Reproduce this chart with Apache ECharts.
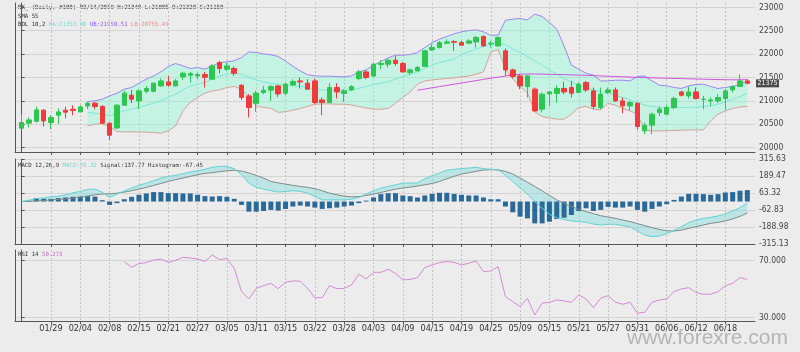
<!DOCTYPE html>
<html><head><meta charset="utf-8">
<script src="https://cdn.jsdelivr.net/npm/echarts@6/dist/echarts.min.js"></script>
<style>html,body{margin:0;padding:0;background:#ececec;}#c{width:800px;height:352px;}</style>
</head><body><div id="c"></div>
<script>
const dates = ['01/23','01/24','01/25','01/28','01/29','01/30','01/31','02/01','02/04','02/05',
'02/06','02/07','02/08','02/12','02/13','02/14','02/15','02/18','02/19','02/20',
'02/21','02/22','02/25','02/26','02/27','02/28','03/01','03/04','03/05','03/06',
'03/07','03/08','03/11','03/12','03/13','03/14','03/15','03/18','03/19','03/20',
'03/22','03/25','03/26','03/27','03/28','03/29','04/01','04/02','04/03','04/04',
'04/05','04/08','04/09','04/10','04/11','04/12','04/15','04/16','04/17','04/18',
'04/19','04/22','04/23','04/24','04/25','04/26','05/07','05/08','05/09','05/10',
'05/13','05/14','05/15','05/16','05/17','05/20','05/21','05/22','05/23','05/24',
'05/27','05/28','05/29','05/30','05/31','06/03','06/04','06/05','06/06','06/07',
'06/10','06/11','06/12','06/13','06/14','06/17','06/18','06/19','06/20','06/21'];

const opens = [20417,20524,20566,20801,20539,20694,20801,20823,20765,20893,
20951,20880,20523,20423,20908,21122,21000,21207,21207,21321,
21406,21321,21513,21549,21534,21564,21464,21820,21677,21692,
21335,21107,20951,21180,21229,21320,21165,21342,21427,21378,
21427,21021,20966,21286,21158,21235,21478,21620,21534,21777,
21784,21870,21799,21607,21641,21735,22090,22141,22233,22269,
22248,22233,22261,22376,22218,22175,22069,21662,21534,21307,
21250,20823,21150,21158,21265,21286,21180,21393,21214,20859,
21180,21235,21000,20893,20951,20360,20481,20752,20716,20859,
21192,21107,21192,21030,21000,21000,21051,21235,21307,21427];
const closes = [20539,20594,20808,20573,20645,20765,20759,20795,20872,20951,
20880,20523,20267,20908,21165,21036,21214,21265,21378,21427,
21335,21427,21592,21585,21564,21506,21748,21692,21748,21592,
21073,20859,21165,21229,21307,21150,21357,21415,21406,21250,
20966,20966,21286,21192,21214,21307,21620,21500,21784,21799,
21870,21799,21620,21662,21713,22069,22141,22248,22261,22255,
22190,22282,22355,22175,22233,22355,21662,21521,21321,21534,
20786,21143,21192,21265,21192,21165,21357,21235,20880,21143,
21235,21000,20893,20966,20453,20481,20716,20823,20859,21051,
21122,21192,21051,21036,21021,21073,21214,21307,21427,21375];
const lows = [20395,20431,20539,20453,20395,20502,20625,20694,20765,20823,
20823,20502,20167,20395,20893,20951,20823,21165,21180,21307,
21307,21307,21449,21393,21464,21286,21464,21592,21640,21534,
21021,20645,20765,21143,21000,21085,21122,21321,21265,21235,
20929,20694,20951,21051,20979,21214,21449,21464,21500,21677,
21714,21748,21607,21549,21641,21735,22069,22120,22212,22069,
22175,22212,22141,22162,22141,22162,21534,21479,21250,21073,
20765,20752,20893,20966,21143,21073,21165,21192,20823,20823,
21143,20979,20737,20786,20380,20288,20288,20679,20716,20823,
21094,21051,21030,20823,20880,20951,20808,21180,21307,21357];
const highs = [20716,20645,20880,20823,20694,20838,20880,20908,20908,20979,
20979,20908,20539,20929,21214,21235,21250,21321,21393,21478,
21534,21464,21620,21620,21606,21620,21784,21855,21820,21735,
21357,21143,21214,21321,21335,21340,21393,21464,21500,21464,
21478,21073,21378,21378,21250,21335,21662,21662,21821,21876,
21906,21962,21833,21692,21748,22090,22212,22282,22319,22297,
22282,22319,22389,22404,22282,22376,22120,21692,21571,21550,
21286,21180,21214,21335,21406,21427,21393,21427,21286,21286,
21286,21286,21073,21000,20966,20539,20752,20880,20908,21094,
21214,21307,21286,21107,21073,21143,21250,21335,21571,21464];

const bolUpper = [null,null,null,null,null,null,null,null,null,
20987,21000,21036,21107,21165,21250,21286,21378,21464,21534,
21620,21735,21799,21748,21692,21714,21677,21748,21821,21833,
21855,21927,22047,22034,22005,21985,21950,21850,21740,21640,
21560,21534,21527,21527,21520,21513,21534,21620,21662,21763,
21842,21919,21977,21977,21992,22034,22141,22248,22319,22376,
22432,22475,22504,22517,22475,22404,22404,22725,22746,22761,
22731,22853,22804,22675,22532,22175,21763,21677,21592,21549,
21427,21427,21442,21442,21427,21521,21534,21427,21335,21321,
21286,21265,21321,21350,21357,21308,21265,21286,21308,21357,
21427];
const bolMid = [null,null,null,null,null,null,null,null,null,
20752,20737,20716,20694,20737,20786,20823,20859,20908,20951,
21000,21073,21143,21235,21321,21357,21393,21464,21534,21571,
21592,21560,21510,21450,21405,21375,21353,21335,21321,21308,
21286,21250,21235,21229,21229,21229,21235,21265,21308,21350,
21378,21406,21464,21521,21571,21620,21692,21763,21821,21855,
21891,21990,22050,22110,22160,22215,22250,22200,22110,22035,
21949,21855,21763,21662,21571,21479,21406,21335,21286,21235,
21192,21165,21122,21073,21021,20966,20908,20880,20859,20850,
20850,20859,20859,20865,20880,20893,20929,20979,21036,21094,
21158];
const bolLower = [null,null,null,null,null,null,null,null,null,
20466,20502,20517,20453,20346,20338,20338,20338,20331,20325,
20310,20359,20466,20786,20966,21073,21165,21214,21235,21286,
21308,21250,21073,20893,20859,20844,20755,20770,20801,20838,
20880,20929,20936,20936,20929,20929,20915,20880,20850,20823,
20823,20838,20951,21073,21192,21357,21427,21449,21464,21479,
21492,21513,21534,21571,21620,22040,22100,21675,21474,21309,
21167,20765,20667,20637,20609,20609,20716,20859,20880,20823,
20808,20951,20908,20838,20786,20716,20374,20359,20359,20367,
20367,20374,20380,20380,20380,20573,20716,20786,20838,20872,
20880];
const sma55 = [null,null,null,null,null,null,null,null,null,null,
null,null,null,null,null,null,null,null,null,null,
null,null,null,null,null,null,null,null,null,null,
null,null,null,null,null,null,null,null,null,null,
null,null,null,null,null,null,null,null,null,null,
null,null,null,null,
21229,21254,21280,21306,21331,21357,21383,21408,21434,21459,
21485,21509,21532,21553,21571,21575,21575,21573,21568,21564,
21560,21556,21551,21547,21541,21534,21528,21521,21515,21509,
21502,21498,21494,21489,21485,21481,21477,21472,21468,21464,
21459,21455,21453,21451,21451,21453];

const macdLine = [0,10,22,27,35,40,50,65,75,90,
92,70,30,55,80,100,120,137,154,174,
187,194,207,219,229,239,254,261,261,244,
199,137,105,92,80,70,75,80,75,62,
37,12,12,12,12,17,30,55,80,100,
112,124,137,137,139,169,192,212,232,239,
244,249,254,244,239,237,194,149,100,55,
0,-50,-95,-120,-134,-144,-149,-154,-167,-174,
-169,-169,-179,-187,-219,-249,-261,-256,-239,-214,
-187,-157,-137,-125,-117,-107,-92,-70,-45,-12];
const macdSignal = [0,2,5,7,12,15,20,25,32,40,
50,55,57,62,70,80,92,105,120,134,
149,162,174,187,199,209,214,222,228,232,
226,212,194,174,149,138,129,120,112,105,
95,80,62,50,40,35,37,45,55,67,
80,92,100,107,115,124,134,149,169,187,
204,214,224,234,237,234,224,204,174,144,
112,80,45,12,-12,-37,-57,-75,-90,-105,
-115,-125,-137,-149,-164,-179,-194,-207,-217,-219,
-212,-199,-187,-174,-162,-154,-144,-129,-110,-85];
const macdHist = [0,5,25,20,20,25,30,35,37,42,
37,10,-25,-12,17,35,50,60,70,70,
62,62,60,60,50,40,37,40,35,20,
-25,-75,-75,-70,-62,-67,-55,-37,-30,-37,
-45,-55,-50,-45,-37,-30,-12,7,30,55,
62,62,45,40,30,45,57,65,65,57,
50,45,45,30,17,17,-37,-80,-112,-125,
-162,-162,-150,-130,-120,-100,-70,-50,-70,-62,
-40,-45,-45,-37,-62,-75,-55,-37,-20,12,
37,57,57,55,50,55,67,70,80,85];
const rsi14 = [null,null,null,null,null,null,null,null,null,null,null,null,null,null,
69.2,65.2,67.8,68.5,70.3,71.0,68.7,70.1,72.2,71.7,
71.0,69.4,73.8,70.6,71.5,64.5,48.2,43.1,50.5,52.4,
54.0,50.3,54.8,55.7,55.5,50.5,44.0,44.0,52.4,50.3,
50.5,52.9,60.4,57.1,61.7,61.7,63.8,61.0,
56.4,56.8,58.0,65.0,66.9,68.5,69.2,68.7,66.9,68.0,
69.7,62.2,62.7,65.7,44.7,41.2,37.7,43.6,31.9,40.1,
40.8,42.4,41.7,40.8,45.9,43.1,37.0,43.6,45.4,40.8,
39.4,40.8,33.1,33.8,40.8,42.4,43.1,48.2,50.1,51.0,
47.7,46.4,46.4,48.2,52.4,54.0,58.0,56.8];

const priceTicks = [20000,20500,21000,21500,22000,22500,23000];
const macdTicks = [-315.13,-188.98,-62.83,63.32,189.47,315.63];
const rsiTicks = [30,70];
const priceRange = [19908,23092];
const macdRange = [-315.13,315.63];
const rsiRange = [27.7,77.3];

const headerMain = 'NK_ (Daily, #100) 03/14/2019 H:21340 L:21085 O:21320 C:21150';
const headerSma = 'SMA 55';
const headerBol = ['BOL 10,2 ','MA:21353.00','UB:21950.51','LB:20755.49'];
const headerMacd = ['MACD 12,26,9 ','MACD:70.32',' Signal:137.77 Histogram:-67.45'];
const headerRsi = ['RSI 14 ','50.273'];
const watermark = 'www.forexre.com';

const chart = echarts.init(document.getElementById('c'));
const labelIdx = dates.map((d,i)=>i).filter(i => i>0 && i%4===0);
const ohlc = dates.map((d,i)=>[opens[i],closes[i],lows[i],highs[i]]);
const lastClose = closes[closes.length-1];

const MONO = '"DejaVu Sans Mono", monospace';
const NARROW = '"Liberation Sans Narrow", "DejaVu Sans Condensed", sans-serif';
const AX = '#555';

const panels = [
  {top:3, height:149, range:priceRange, ticks:priceTicks, fmt:v=>String(Math.round(v))},
  {top:159, height:85, range:macdRange, ticks:macdTicks, fmt:v=>v.toFixed(2)},
  {top:250, height:71, range:rsiRange, ticks:rsiTicks, fmt:v=>v.toFixed(3)}
];
const grids=[], xAxes=[], yAxes=[];
panels.forEach((p,k)=>{
  grids.push({left:18, right:49, top:p.top, height:p.height});
  grids.push({left:15, right:45, top:p.top, height:p.height});
  xAxes.push({type:'category', gridIndex:2*k, data:dates, boundaryGap:true, show:false});
  xAxes.push({type:'value', gridIndex:2*k+1, min:-0.909, max:100.04,
    axisLine:{show:true, onZero:false, lineStyle:{color:AX}},
    axisTick:{show:true, customValues:labelIdx, length:3, lineStyle:{color:AX}},
    axisLabel:{show:k===2, customValues:labelIdx, formatter:v=>dates[Math.round(v)], fontSize:9, color:'#333', margin:3, fontFamily:NARROW},
    splitLine:{show:true, lineStyle:{color:'#c2c2c2', type:[2,2]}}});
  yAxes.push({type:'value', gridIndex:2*k, min:p.range[0], max:p.range[1], show:false, splitLine:{show:false}});
  yAxes.push({type:'value', gridIndex:2*k+1, position:'right', min:p.range[0], max:p.range[1],
    axisLine:{show:true, lineStyle:{color:AX}},
    axisTick:{show:true, customValues:p.ticks, length:3, lineStyle:{color:AX}},
    axisLabel:{customValues:p.ticks, formatter:p.fmt, fontSize:8.5, color:'#444', margin:4, fontFamily:NARROW},
    splitLine:{show:true, lineStyle:{color:'#d4d4d4'}}});
  yAxes.push({type:'value', gridIndex:2*k+1, position:'left', min:0, max:1,
    axisLine:{show:true, lineStyle:{color:AX}}, axisTick:{show:false}, axisLabel:{show:false}, splitLine:{show:false}});
});

function bandRender(upper, lower, style){
  return function(params, api){
    if (params.dataIndex !== 0) return null;
    const pts=[];
    for (let i=0;i<upper.length;i++) if (upper[i]!=null) pts.push(api.coord([i, upper[i]]));
    for (let i=lower.length-1;i>=0;i--) if (lower[i]!=null) pts.push(api.coord([i, lower[i]]));
    return {type:'polygon', shape:{points:pts}, style:style, silent:true};
  };
}
function line(data, color, xi, yi, z){
  return {type:'line', xAxisIndex:xi, yAxisIndex:yi, data:data, symbol:'none', silent:true,
    lineStyle:{color:color, width:1}, z:z||3};
}

const F = '5.7px '+MONO;
const option = {
  animation:false,
  backgroundColor:'#ececec',
  grid:grids, xAxis:xAxes, yAxis:yAxes,
  series:[
    {type:'custom', xAxisIndex:0, yAxisIndex:0, data:[[0, bolMid[9]]], clip:false, z:1,
      renderItem:bandRender(bolUpper, bolLower, {fill:'rgba(127,255,212,0.36)'})},
    line(bolUpper,'#9b86ee',0,0,2),
    line(bolLower,'#d2a49c',0,0,2),
    line(bolMid,'#80e6d6',0,0,2),
    line(sma55,'#cc55dd',0,0,3),
    {type:'candlestick', xAxisIndex:0, yAxisIndex:0, data:ohlc, barWidth:5, z:4, silent:true,
      itemStyle:{color:'#2ec550', color0:'#f23a3a', borderColor:'#2ec550', borderColor0:'#f23a3a', borderWidth:1}},
    {type:'custom', xAxisIndex:2, yAxisIndex:3, data:[[0,0]], clip:false, z:1,
      renderItem:bandRender(macdLine, macdSignal, {fill:'rgba(120,220,220,0.40)'})},
    {type:'bar', xAxisIndex:2, yAxisIndex:3, data:macdHist, barWidth:5, silent:true, z:2,
      itemStyle:{color:'#2a6998'}},
    line(macdSignal,'#7d8c88',2,3,3),
    line(macdLine,'#62d4d2',2,3,3),
    line(rsi14,'#d48ad2',4,6,3)
  ],
  graphic:[
    {id:'h1', type:'text', left:18, top:5, silent:true, style:{text:headerMain, fill:'#333', font:F}},
    {id:'h2', type:'text', left:18, top:13.5, silent:true, style:{text:headerSma, fill:'#333', font:F}},
    {id:'h3', type:'text', left:18, top:22, silent:true, style:{
      text:'{a|'+headerBol[0]+'}{m|'+headerBol[1]+'}{a| }{u|'+headerBol[2]+'}{a| }{l|'+headerBol[3]+'}',
      font:F, rich:{a:{fill:'#333', font:F}, m:{fill:'#6fdccc', font:F}, u:{fill:'#8a5cf0', font:F}, l:{fill:'#f08a8a', font:F}}}},
    {id:'h4', type:'text', left:18, top:162.5, silent:true, style:{
      text:'{a|'+headerMacd[0]+'}{m|'+headerMacd[1]+'}{a|'+headerMacd[2]+'}',
      font:F, rich:{a:{fill:'#333', font:F}, m:{fill:'#6fdccc', font:F}}}},
    {id:'h5', type:'text', left:18, top:251.5, silent:true, style:{
      text:'{a|'+headerRsi[0]+'}{r|'+headerRsi[1]+'}',
      font:F, rich:{a:{fill:'#333', font:F}, r:{fill:'#cc66cc', font:F}}}},
    {id:'wm', type:'text', left:627, top:328, silent:true, style:{text:watermark, fill:'#b5b5b5', font:'21px "Liberation Sans", Arial, sans-serif'}}
  ]
};
chart.setOption(option);

// last-price tag on the right axis, placed through the price axis scale
const tagY = chart.convertToPixel({xAxisIndex:0, yAxisIndex:0}, [0, lastClose])[1];
chart.setOption({graphic:[
  {id:'tagBox', type:'rect', x:756, y:tagY-4, z:100, silent:true, shape:{x:0, y:0, width:23, height:8}, style:{fill:'#4d4d4d'}},
  {id:'tagTxt', type:'text', x:767.5, y:tagY, z:101, silent:true, style:{text:String(lastClose), fill:'#fff', font:'7px '+NARROW, align:'center', verticalAlign:'middle'}}
]});
</script></body></html>
